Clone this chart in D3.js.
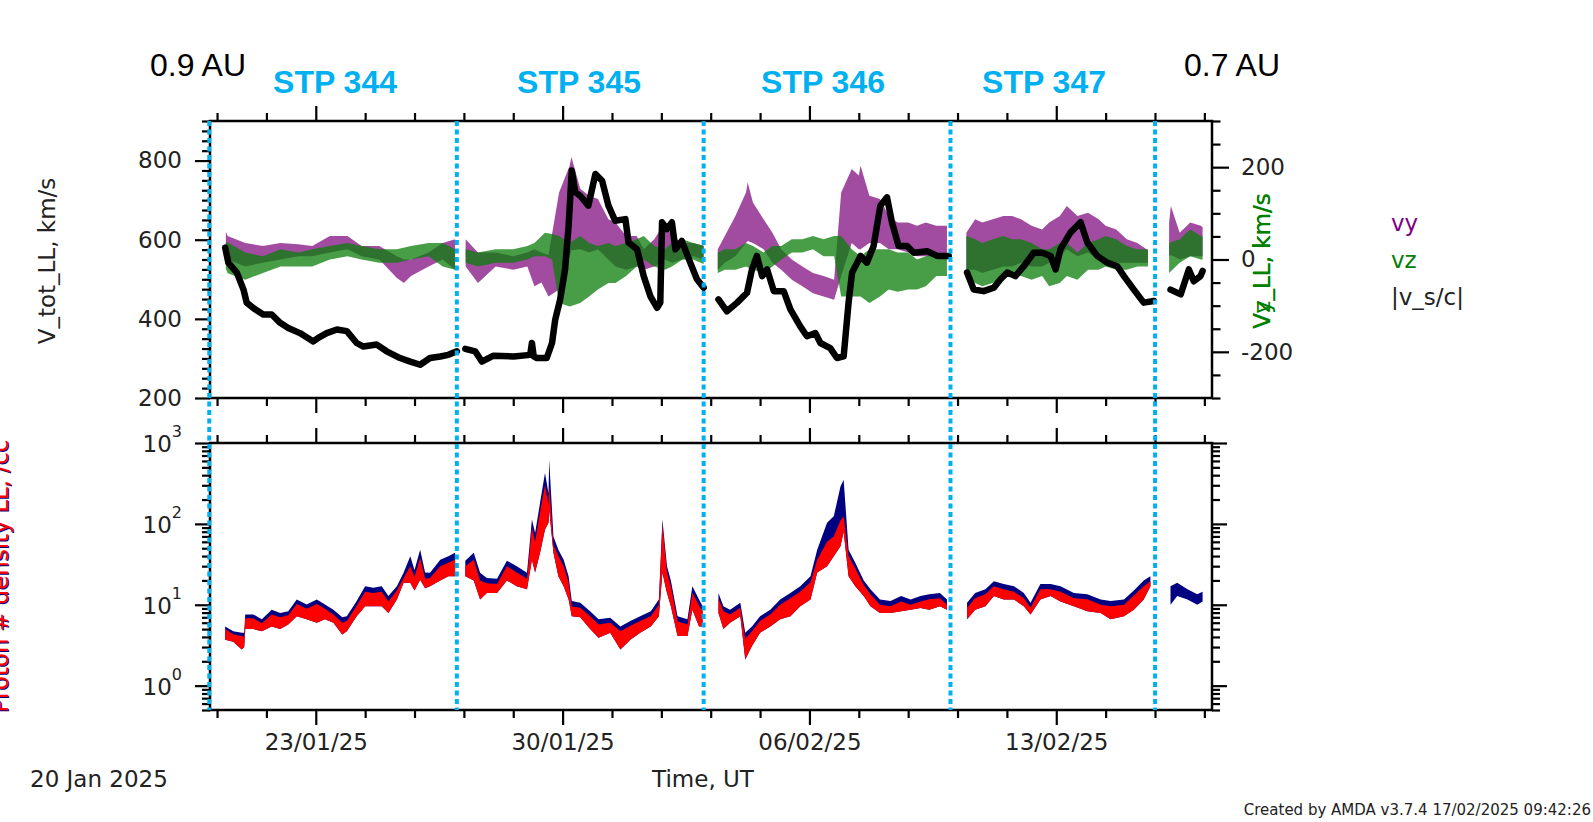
<!DOCTYPE html>
<html><head><meta charset="utf-8">
<script src="https://cdn.jsdelivr.net/npm/d3@7"></script>
<style>
body{margin:0;background:#fff;}
svg{display:block;}
text{font-family:"DejaVu Sans",sans-serif;}
</style>
</head><body>
<svg id="c" width="1593" height="822"></svg>
<script>
// ---------------- DATA (days after 2025-01-20 00:00 UT) ----------------
// |v_s/c| (black, left axis km/s): [day, value]; null = data gap
const vsc = [
[0.43,580],[0.52,542],[0.76,517],[0.95,474],[1.04,441],[1.28,424],[1.51,411],[1.75,411],[1.99,390],[2.22,377],[2.55,364],[2.93,343],[3.07,352],[3.31,364],[3.60,373],[3.88,369],[4.16,339],[4.35,330],[4.73,335],[5.01,318],[5.39,301],[5.68,292],[5.96,284],[6.24,301],[6.53,305],[6.76,309],[7.00,318],
[7.1,null],
[7.24,324],[7.52,318],[7.71,292],[8.04,307],[8.61,305],[9.08,309],[9.13,339],[9.18,305],[9.27,301],[9.55,301],[9.70,339],[9.79,398],[9.93,449],[10.07,525],[10.17,635],[10.26,775],[10.36,720],[10.50,711],[10.73,686],[10.93,766],[11.12,749],[11.30,686],[11.49,648],[11.78,652],[11.87,593],[12.11,576],[12.30,508],[12.49,457],[12.68,428],[12.77,441],[12.82,644],[12.96,627],[13.10,644],[13.20,576],[13.38,597],[13.62,542],[13.81,500],[14.00,479],
[14.2,null],
[14.42,449],[14.66,419],[14.95,441],[15.23,466],[15.37,525],[15.51,559],[15.66,508],[15.80,525],[15.99,470],[16.27,470],[16.46,424],[16.74,381],[16.93,356],[17.17,364],[17.31,339],[17.59,326],[17.78,301],[17.97,305],[18.11,441],[18.21,517],[18.40,550],[18.45,559],[18.63,542],[18.82,584],[19.01,686],[19.20,707],[19.34,644],[19.53,584],[19.77,584],[19.96,567],[20.34,571],[20.62,559],[20.95,559],
[21.2,null],
[21.47,517],[21.66,474],[21.94,470],[22.23,479],[22.42,500],[22.61,517],[22.84,508],[23.08,533],[23.36,567],[23.60,567],[23.84,559],[23.98,525],[24.12,576],[24.40,618],[24.69,644],[24.88,593],[25.16,559],[25.44,542],[25.73,533],[25.92,508],[26.20,474],[26.48,441],[26.77,445],
[27.0,null],
[27.24,474],[27.53,462],[27.76,525],[27.90,495],[28.09,508],[28.15,521]
];
// vy (purple, right axis km/s): [day, low, high] of the scatter band
const vy = [
[0.45,0,60],[0.5,0,51],[1.0,-15,36],[1.5,-7,29],[2.0,0,36],[2.5,7,33],[2.9,7,29],[3.4,15,51],[3.9,22,51],[4.3,7,29],[4.8,0,29],[5.3,-40,7],[5.5,-51,0],[5.7,-36,0],[6.2,-15,15],[6.6,0,36],[6.95,-22,44],
[7.1,null,null],
[7.25,-15,44],[7.6,-51,15],[8.1,-15,15],[8.6,-22,7],[9.0,-15,15],[9.2,-58,22],[9.4,-50,15],[9.6,-80,10],[9.9,-65,145],[10.2,7,203],[10.25,20,222],[10.5,22,153],[10.75,15,138],[11.0,22,131],[11.3,0,87],[11.5,-15,80],[11.8,-22,51],[12.1,-15,51],[12.3,-22,22],[12.6,-15,44],[12.9,0,80],[13.1,-7,51],[13.4,0,36],[13.7,7,36],[14.0,0,30],
[14.2,null,null],
[14.4,-22,22],[14.6,-7,51],[14.9,7,94],[15.2,36,145],[15.25,40,167],[15.4,36,123],[15.7,22,87],[15.95,-7,58],[16.2,-22,22],[16.5,-44,0],[16.8,-58,-15],[17.1,-73,-29],[17.4,-80,-36],[17.7,-87,-44],[17.9,-36,145],[18.2,36,196],[18.4,22,182],[18.45,22,203],[18.7,36,138],[19.0,36,131],[19.25,22,94],[19.5,22,80],[19.8,15,80],[20.05,7,73],[20.3,7,80],[20.6,7,73],[20.9,0,73],
[21.2,null,null],
[21.45,-22,58],[21.7,-22,87],[21.9,-29,80],[22.2,-22,87],[22.5,-15,94],[22.75,-15,94],[23.0,-7,87],[23.3,-15,73],[23.6,-15,65],[23.8,-7,80],[24.1,7,94],[24.3,22,116],[24.6,7,94],[24.9,15,101],[25.2,0,87],[25.4,0,73],[25.7,-7,65],[26.0,-7,44],[26.3,-7,36],[26.6,-7,20],
[26.9,null,null],
[27.2,7,80],[27.25,10,116],[27.5,0,58],[27.8,7,80],[28.1,7,73],[28.15,7,70]
];
// vz (green, right axis km/s): [day, low, high]
const vz = [
[0.45,-20,37],[0.5,-30,37],[1.0,-44,15],[1.5,-29,7],[2.0,-15,22],[2.5,-15,15],[2.9,-15,22],[3.4,0,29],[3.9,7,36],[4.3,0,29],[4.8,-7,22],[5.3,-7,22],[5.7,0,29],[6.2,7,36],[6.6,-15,36],[6.95,-22,22],
[7.1,null,null],
[7.25,-7,22],[7.6,-15,15],[8.1,-7,22],[8.6,-7,22],[9.0,0,29],[9.2,7,36],[9.5,7,58],[9.7,0,55],[9.9,-94,51],[10.2,-102,36],[10.5,-94,51],[10.75,-80,36],[11.0,-65,29],[11.3,-51,36],[11.5,-51,29],[11.8,-36,36],[12.1,-15,44],[12.3,0,51],[12.6,-15,29],[12.9,-22,22],[13.1,-15,36],[13.4,0,44],[13.7,0,36],[14.0,-10,30],
[14.2,null,null],
[14.4,-29,15],[14.6,-22,22],[14.9,-22,22],[15.2,-15,36],[15.4,-22,29],[15.7,-29,15],[15.95,-15,29],[16.2,0,29],[16.5,15,44],[16.8,15,44],[17.1,22,51],[17.4,7,44],[17.7,7,51],[17.9,-80,51],[18.2,-80,22],[18.45,-80,7],[18.7,-94,22],[19.0,-80,22],[19.25,-65,22],[19.5,-70,15],[19.8,-65,15],[20.05,-65,0],[20.3,-58,7],[20.6,-36,15],[20.9,-36,7],
[21.2,null,null],
[21.45,-36,51],[21.7,-51,44],[21.9,-58,36],[22.2,-51,44],[22.5,-36,51],[22.75,-36,44],[23.0,-36,44],[23.3,-44,36],[23.6,-36,22],[23.8,-58,22],[24.1,-51,36],[24.3,-36,36],[24.6,-44,15],[24.9,-22,36],[25.2,-22,44],[25.4,-15,51],[25.7,-22,44],[26.0,-22,29],[26.3,-15,22],[26.6,-15,22],
[26.9,null,null],
[27.2,-29,36],[27.5,-7,44],[27.8,7,65],[28.1,0,51],[28.15,0,50]
];
// Proton density (/cc): [day, red low, red high, navy high]
const dens = [
[0.43,3.7,5.0,5.4],[0.66,3.5,4.3,4.7],[0.9,2.8,4.1,4.5],[0.97,3.0,4.0,4.5],[1.0,5.0,6.8,7.6],[1.23,5.0,6.8,7.6],[1.47,4.7,5.9,6.6],[1.75,5.4,7.6,8.7],[1.99,5.0,7.0,7.9],[2.22,5.7,7.4,8.3],[2.46,7.2,10.2,11.6],[2.74,6.6,8.9,10.1],[3.03,6.0,10.2,11.6],[3.26,6.6,8.9,10.1],[3.5,6.0,7.6,8.7],[3.75,4.3,6.0,7.0],[3.88,4.7,6.3,7.2],[4.16,7.2,9.7,11.1],[4.4,9.6,14.5,17],[4.63,9.6,14,16.2],[4.87,9.6,14.5,17],[5.06,7.9,11,12.8],[5.3,11.6,15,17],[5.49,18.7,21.5,24.8],[5.68,18.7,30,39.8],[5.8,15,22,27],[5.96,20.4,38,48],[6.1,16,21,25],[6.24,17,21.5,24.8],[6.53,20,30,36],[6.76,22.5,33,39.8],[6.95,22.5,36,44],
[7.1,null,null,null],
[7.24,22.5,30,35],[7.48,20,36,44],[7.66,11.6,20,24.8],[7.85,14,18.5,21.5],[8.14,14,18,21],[8.42,20,30,35],[8.7,17,25,30],[8.99,15.5,21,24.8],[9.13,36,90,113],[9.22,25,60,77],[9.36,44,140,182],[9.5,85,300,427],[9.6,103,170,240],[9.62,150,300,620],[9.74,44,55,70],[9.88,22.5,40,48],[10.03,17,30,36],[10.17,11.6,19,22.5],[10.26,7.2,9.5,11.1],[10.5,7.0,9.2,10.6],[10.78,5.0,7.2,8.3],[11.02,3.9,5.7,6.6],[11.35,4.5,6.0,6.9],[11.64,2.8,4.7,5.4],[11.92,3.7,5.5,6.3],[12.2,4.5,6.3,7.2],[12.5,5.4,7.2,8.3],[12.73,7.2,10,11.6],[12.83,25,100,113],[12.96,14,25,30],[13.07,9.6,17,20],[13.26,4.1,6.2,7.2],[13.54,4.1,5.7,6.6],[13.68,8.7,14,17],[13.87,5.4,9.8,11.6],[13.97,5.4,8.3,9.6],
[14.2,null,null,null],
[14.42,7.9,12,14],[14.56,5.0,8.3,9.6],[14.75,6.0,7.6,8.7],[15.04,7.2,9.2,10.6],[15.18,2.1,3.8,4.5],[15.37,3.1,4.7,5.4],[15.6,4.5,6.3,7.2],[15.89,5.4,7.6,8.7],[16.17,6.6,10,11.6],[16.46,7.2,12,14],[16.74,9.6,14.5,17],[17.03,11.6,19,22.5],[17.22,25,36,48],[17.5,30,60,103],[17.69,39.8,70,124],[17.88,53,110,290],[17.97,80,124,352],[18.11,22.5,40,48],[18.3,17,28,33],[18.54,12.8,17.5,20],[18.73,9.6,13.5,15.5],[19.0,7.9,10,11.6],[19.3,7.9,9.6,11.1],[19.6,8.3,11,12.8],[19.87,8.7,10,11.6],[20.15,9.1,11,12.8],[20.4,8.7,11.7,13.5],[20.7,9.6,12,14],[20.9,8.7,10,11.6],
[21.2,null,null,null],
[21.47,6.6,9.2,10.6],[21.7,8.7,12,14],[21.99,9.6,13.5,15.5],[22.23,12.8,17,19.5],[22.51,11.6,15.5,18],[22.8,11.6,14.5,17],[23.08,9.6,12,14],[23.27,7.6,9.2,10.6],[23.55,11.6,15.5,18],[23.84,12.8,15.5,18],[24.12,11,14.5,17],[24.5,9.6,12,14],[24.88,8.3,11.7,13.5],[25.26,7.9,10,11.6],[25.54,6.6,9.6,11.1],[25.92,7.2,10,11.6],[26.2,8.7,13,15],[26.48,11.6,17,20],[26.67,17,19.5,22.5]
];
// navy-only density after the last boundary: [day, low, high]
const densNavyOnly = [[27.24,10,17],[27.43,12.8,18.7],[27.72,11.6,15.5],[28.0,10,13.5],[28.15,11,14.5]];

// STP boundaries (UT) and labels
const stpBounds = ["2025-01-19T23:30Z","2025-01-27T00:00Z","2025-02-03T00:00Z","2025-02-10T00:00Z","2025-02-15T19:15Z"];
const stpLabels = ["STP 344","STP 345","STP 346","STP 347"];
const distLabels = ["0.9 AU","0.7 AU"];
const majorDays = [3,10,17,24];           // 23/01, 30/01, 06/02, 13/02
const leftMajors = [200,400,600,800];
const rightMajors = [-200,0,200];
const densDecades = [1,10,100,1000];
const legendItems = [["vy","#800080"],["vz","#008000"],["|v_s/c|","#222"]];

// ---------------- LAYOUT ----------------
const svg = d3.select("#c");
const L=210, R=1212, T1=121, B1=398, T2=443, B2=710;
const t0 = new Date(Date.UTC(2025,0,20));
const dd = d => new Date(t0.getTime() + d*864e5);
const x = d3.scaleUtc().domain([t0, new Date(Date.UTC(2025,1,17,10))]).range([L,R]);
const yL = d3.scaleLinear().domain([200,900]).range([B1,T1]);
const yR = d3.scaleLinear().domain([-300,300]).range([B1,T1]);
const yD = d3.scaleLog().domain([0.5,1000]).range([B2,T2]);

const defs = svg.append("defs");
defs.append("clipPath").attr("id","c1").append("rect").attr("x",L).attr("y",T1).attr("width",R-L).attr("height",B1-T1);
defs.append("clipPath").attr("id","c2").append("rect").attr("x",L).attr("y",T2).attr("width",R-L).attr("height",B2-T2);

// ---------- top panel data ----------
const g1 = svg.append("g").attr("clip-path","url(#c1)");
const bandR = d3.area().defined(d=>d[1]!=null).x(d=>x(dd(d[0]))).y0(d=>yR(d[1])).y1(d=>yR(d[2]));
g1.append("path").datum(vy).attr("d",bandR).attr("fill","#8a1f8a").attr("fill-opacity",0.8);
g1.append("path").datum(vz).attr("d",bandR).attr("fill","#0a7d0a").attr("fill-opacity",0.75);
const lineL = d3.line().defined(d=>d[1]!=null).x(d=>x(dd(d[0]))).y(d=>yL(d[1]));
g1.append("path").datum(vsc).attr("d",lineL).attr("fill","none").attr("stroke","#000")
  .attr("stroke-width",6.5).attr("stroke-linejoin","round").attr("stroke-linecap","round");

// ---------- bottom panel data ----------
const g2 = svg.append("g").attr("clip-path","url(#c2)");
const navyA = d3.area().defined(d=>d[1]!=null).x(d=>x(dd(d[0]))).y0(d=>yD(d[1])).y1(d=>yD(d[3]));
const redA = d3.area().defined(d=>d[1]!=null).x(d=>x(dd(d[0]))).y0(d=>yD(d[1])).y1(d=>yD(d[2]));
const navyOnly = d3.area().x(d=>x(dd(d[0]))).y0(d=>yD(d[1])).y1(d=>yD(d[2]));
g2.append("path").datum(dens).attr("d",navyA).attr("fill","#000080");
g2.append("path").datum(dens).attr("d",redA).attr("fill","#ff0000");
g2.append("path").datum(densNavyOnly).attr("d",navyOnly).attr("fill","#000080");

// ---------- frames ----------
[[T1,B1],[T2,B2]].forEach(([t,b])=>{
  svg.append("rect").attr("x",L).attr("y",t).attr("width",R-L).attr("height",b-t)
    .attr("fill","none").attr("stroke","#000").attr("stroke-width",2.5);
});

// ---------- axes ----------
function styleAxis(g){
  g.select(".domain").remove();
  g.selectAll("line").attr("stroke","#000").attr("stroke-width",2.2);
  g.selectAll("text").attr("fill","#222").style("font-size","23px").style("font-family","DejaVu Sans");
}
const majorDates = majorDays.map(dd);
const minorDates = d3.range(-2,19).map(k=>3+1.4*k).filter(d=>d>=0 && d<=28.42 && Math.abs(((d-3)/7)-Math.round((d-3)/7))>0.01).map(dd);
// x axes
[[T1,"top"],[B1,"bottom"],[T2,"top"],[B2,"bottom"]].forEach(([y0,side],i)=>{
  const mk = side==="top" ? d3.axisTop : d3.axisBottom;
  svg.append("g").attr("transform",`translate(0,${y0})`).call(mk(x).tickValues(minorDates).tickSize(8).tickFormat("")).call(styleAxis);
  const maj = mk(x).tickValues(majorDates).tickSize(15).tickPadding(9);
  maj.tickFormat(i===3 ? d3.utcFormat("%d/%m/%y") : "");
  svg.append("g").attr("transform",`translate(0,${y0})`).call(maj).call(styleAxis);
});
// left axis top panel
svg.append("g").attr("transform",`translate(${L},0)`).call(d3.axisLeft(yL).tickValues(d3.range(200,901,25).filter(v=>v%200)).tickSize(8).tickFormat("")).call(styleAxis);
svg.append("g").attr("transform",`translate(${L},0)`).call(d3.axisLeft(yL).tickValues(leftMajors).tickSize(15).tickPadding(13).tickFormat(d=>String(d))).call(styleAxis);
// right axis top panel
svg.append("g").attr("transform",`translate(${R},0)`).call(d3.axisRight(yR).tickValues(d3.range(-300,301,50).filter(v=>v%200)).tickSize(8.5).tickFormat("")).call(styleAxis);
svg.append("g").attr("transform",`translate(${R},0)`).call(d3.axisRight(yR).tickValues(rightMajors).tickSize(17).tickPadding(12).tickFormat(d=>String(d))).call(styleAxis);
// log axes bottom panel
const logMinor = [];
[0.1,1,10,100].forEach(b=>d3.range(2,10).forEach(m=>{const v=m*b; if(v>=0.5&&v<1000) logMinor.push(v);}));
[[L,d3.axisLeft],[R,d3.axisRight]].forEach(([xx,mk],i)=>{
  svg.append("g").attr("transform",`translate(${xx},0)`).call(mk(yD).tickValues(logMinor).tickSize(8).tickFormat("")).call(styleAxis);
  svg.append("g").attr("transform",`translate(${xx},0)`).call(mk(yD).tickValues(densDecades).tickSize(15).tickFormat("")).call(styleAxis);
});
densDecades.forEach(v=>{
  const t = svg.append("text").attr("x",182).attr("y",yD(v)+9).attr("text-anchor","end")
    .attr("fill","#222").style("font-size","23px");
  t.append("tspan").text("10");
  t.append("tspan").attr("dy",-15).style("font-size","16px").text(String(Math.round(Math.log10(v))));
});

// ---------- axis titles ----------
svg.append("text").attr("transform","translate(55,261) rotate(-90)").attr("text-anchor","middle")
  .attr("fill","#222").style("font-size","23px").text("V_tot_LL, km/s");
svg.append("text").attr("transform","translate(1270,261) rotate(-90)").attr("text-anchor","middle")
  .attr("fill","#008000").style("font-size","23px").text("Vy_LL, km/s");
svg.append("text").attr("transform","translate(1270,261) rotate(-90)").attr("text-anchor","middle")
  .attr("fill","#008000").style("font-size","23px").text("Vz_LL, km/s");
svg.append("text").attr("transform","translate(9,577) rotate(-90)").attr("text-anchor","middle")
  .attr("fill","#000080").style("font-size","23px").text("Proton # density LL, /cc");
svg.append("text").attr("transform","translate(8,576) rotate(-90)").attr("text-anchor","middle")
  .attr("fill","#ff0000").style("font-size","23px").text("Proton # density LL, /cc");
svg.append("text").attr("x",703).attr("y",787).attr("text-anchor","middle").attr("fill","#222").style("font-size","23px").text("Time, UT");
svg.append("text").attr("x",30).attr("y",787).attr("fill","#222").style("font-size","23px").text("20 Jan 2025");
svg.append("text").attr("x",1591).attr("y",815).attr("text-anchor","end").attr("fill","#222").style("font-size","15px")
  .text("Created by AMDA v3.7.4 17/02/2025 09:42:26");

// ---------- legend ----------
legendItems.forEach(([t,c],i)=>{
  svg.append("text").attr("x",1391).attr("y",231+i*37).attr("fill",c).style("font-size","23px").text(t);
});

// ---------- STP boundaries ----------
stpBounds.forEach(s=>{
  const xx = x(new Date(s));
  svg.append("line").attr("x1",xx).attr("x2",xx).attr("y1",T1).attr("y2",B2)
    .attr("stroke","#00b0f0").attr("stroke-width",4).attr("stroke-dasharray","5,3.5");
});
const stpX = [335,579,823,1044];
stpLabels.forEach((t,i)=>{
  svg.append("text").attr("x",stpX[i]).attr("y",93).attr("text-anchor","middle").attr("fill","#00b0f0")
    .style("font-family","'Liberation Sans',Arial,sans-serif").style("font-weight","bold").style("font-size","32px").text(t);
});
svg.append("text").attr("x",150).attr("y",76).style("font-family","'Liberation Sans',Arial,sans-serif").style("font-size","32px").attr("fill","#000").text(distLabels[0]);
svg.append("text").attr("x",1184).attr("y",76).style("font-family","'Liberation Sans',Arial,sans-serif").style("font-size","32px").attr("fill","#000").text(distLabels[1]);
</script>
</body></html>
